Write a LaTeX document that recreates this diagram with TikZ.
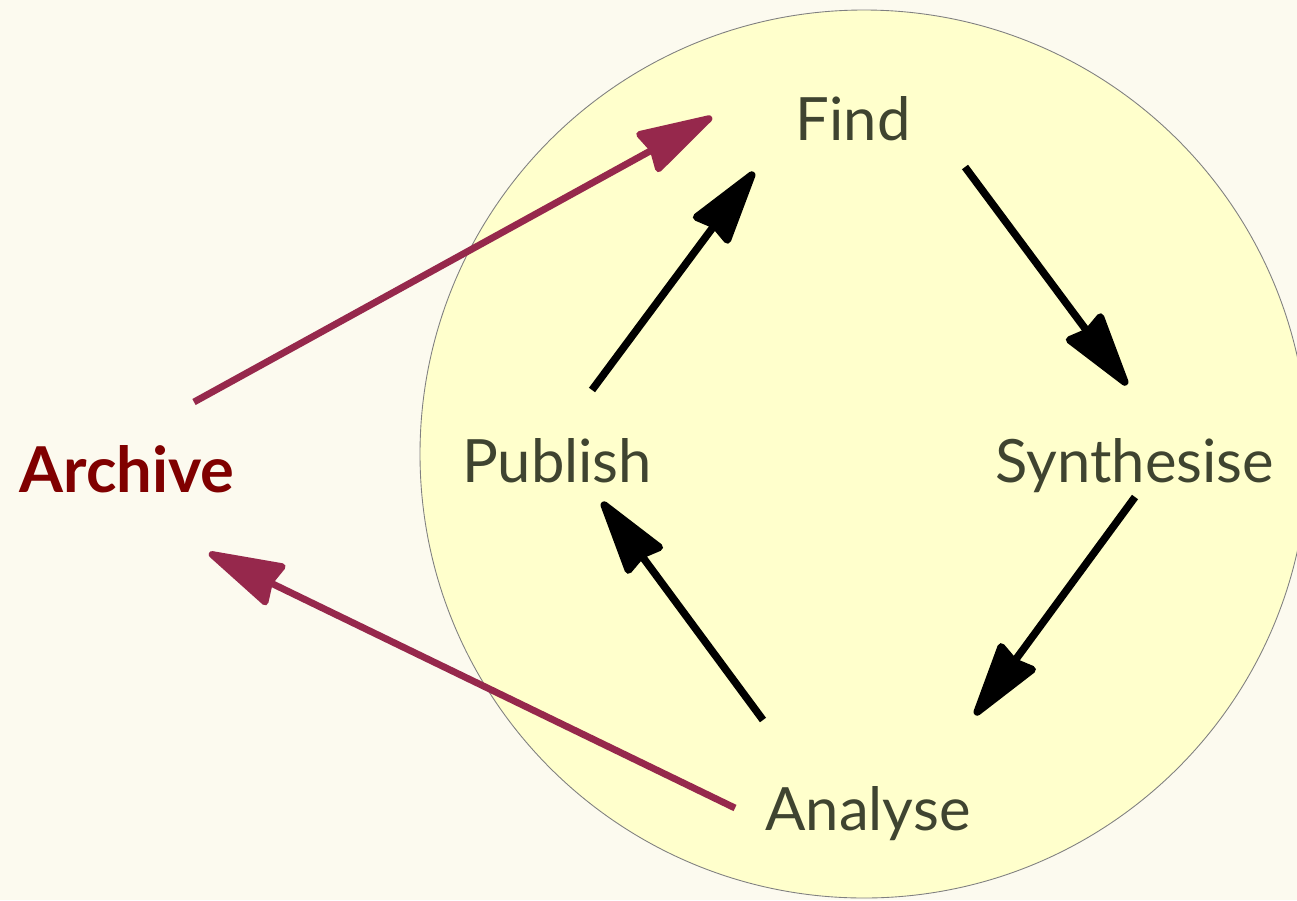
\documentclass[tikz,border=0pt]{standalone}
\usepackage{fontspec}
\setmainfont{Lato}
\usetikzlibrary{arrows.meta,calc}

\definecolor{paper}{HTML}{FCFAEF}
\definecolor{cycle}{HTML}{FFFFCC}
\definecolor{stage}{HTML}{3F4430}
\definecolor{store}{HTML}{800000}
\definecolor{flow}{HTML}{96284C}

\begin{document}
\begin{tikzpicture}[x=0.02cm,y=-0.02cm,
    >={Stealth[length=1.7cm,width=0.95cm,inset=0.1cm,round]},
    line width=4.3pt,
    stage node/.style={anchor=base,text=stage,font=\fontsize{34}{40}\selectfont},
    store node/.style={anchor=base,text=store,font=\fontsize{36}{40}\selectfont\bfseries},
    step arrow/.style={->,draw=black},
    store arrow/.style={->,draw=flow,line width=3.9pt}]

  \fill[paper] (0,0) rectangle (1297,900);
  \useasboundingbox (0,0) rectangle (1297,900);
  \clip (0,0) rectangle (1297,900);
  \draw[fill=cycle,draw=gray,line width=0.5pt] (864,454) circle[radius=444];

  \node[stage node] (find) at (853,140) {Find};
  \node[stage node] (synth) at (1135,482) {Synthesise};
  \node[stage node] (analyse) at (868,830) {Analyse};
  \node[stage node] (publish) at (557,482) {Publish};
  \node[store node] (archive) at (127,492) {Archive};

  % the cycle
  \draw[step arrow] ($(find.base)+(112,27)$) -- ($(synth.base)+(-8,-97)$);
  \draw[step arrow] ($(synth.base)+(0,15)$) -- ($(analyse.base)+(107,-115)$);
  \draw[step arrow] ($(analyse.base)+(-105,-110)$) -- ($(publish.base)+(45,20)$);
  \draw[step arrow] ($(publish.base)+(35,-92)$) -- ($(find.base)+(-99,32)$);

  % in and out of the archive
  \draw[store arrow] ($(archive.base)+(67,-90)$) -- ($(find.base)+(-141,-23)$);
  \draw[store arrow] ($(analyse.base)+(-133,-22)$) -- ($(archive.base)+(82,61)$);

\end{tikzpicture}
\end{document}
